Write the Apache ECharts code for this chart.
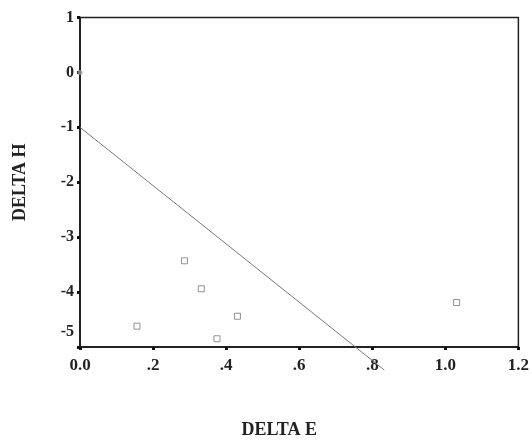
<!DOCTYPE html>
<html lang="en">
<head>
    <meta charset="UTF-8">
    <title></title>
    <style>
        html, body { margin: 0; padding: 0; background: #fff; }
        #main { width: 532px; height: 444px; }
    </style>
</head>
<body>
<div id="main"></div>
<script src="https://cdn.jsdelivr.net/npm/echarts@6/dist/echarts.min.js"></script>
<script type="text/javascript">
    // values
    var deltaE = [0.156, 0.286, 0.332, 0.375, 0.431, 1.031];
    var deltaH = [-4.62, -3.43, -3.94, -4.85, -4.44, -4.19];
    var originE = [0];
    var originH = [0];
    var lineE = [0, 0.833];
    var lineH = [-1, -5.42];

    var font = '"Liberation Serif", "DejaVu Serif", serif';

    function pairs(a, b) {
        var out = [];
        for (var i = 0; i < a.length; i++) out.push([a[i], b[i]]);
        return out;
    }

    var myChart = echarts.init(document.getElementById('main'));

    var option = {
        animation: false,
        grid: {
            left: 80, right: 9, top: 17.5, bottom: 95,
            show: true, borderColor: '#222', borderWidth: 1.5
        },
        xAxis: {
            type: 'value',
            min: 0, max: 1.2, interval: 0.2,
            splitLine: {show: false},
            axisLine: {onZero: false, lineStyle: {color: '#222', width: 2}},
            axisTick: {length: 3, lineStyle: {color: '#111', width: 3}},
            axisLabel: {
                color: '#222', fontFamily: font, fontWeight: 'bold', fontSize: 17, margin: 10,
                formatter: function (v) {
                    if (v === 0) return '0.0';
                    var s = v.toFixed(1);
                    return s.charAt(0) === '0' ? s.substring(1) : s;
                }
            },
            name: 'DELTA E',
            nameLocation: 'middle',
            nameGap: 74,
            nameTextStyle: {color: '#222', fontFamily: font, fontWeight: 'bold', fontSize: 18, padding: [0, 40, 0, 0]}
        },
        yAxis: {
            type: 'value',
            min: -5, max: 1, interval: 1,
            splitLine: {show: false},
            axisLine: {onZero: false, lineStyle: {color: '#222', width: 2}},
            axisTick: {length: 3, lineStyle: {color: '#111', width: 3}},
            axisLabel: {
                color: '#222', fontFamily: font, fontWeight: 'bold', fontSize: 16, margin: 6,
                formatter: function (v) {
                    return v === -5 ? '{up|-5}' : String(v);
                },
                rich: {
                    up: {color: '#222', fontFamily: font, fontWeight: 'bold', fontSize: 16, padding: [0, 0, 30, 0]}
                }
            },
            name: 'DELTA H',
            nameLocation: 'middle',
            nameGap: 51,
            nameTextStyle: {color: '#222', fontFamily: font, fontWeight: 'bold', fontSize: 18}
        },
        series: [{
            type: 'line',
            data: pairs(lineE, lineH),
            symbol: 'none',
            clip: false,
            lineStyle: {color: '#777', width: 1}
        }, {
            type: 'scatter',
            data: pairs(deltaE, deltaH),
            symbol: 'rect',
            symbolSize: 6,
            itemStyle: {color: '#fff', borderColor: '#777', borderWidth: 1}
        }, {
            type: 'scatter',
            data: pairs(originE, originH),
            symbol: 'circle',
            symbolSize: 5,
            clip: false,
            itemStyle: {color: '#999'}
        }]
    };

    myChart.setOption(option);
</script>
</body>
</html>
